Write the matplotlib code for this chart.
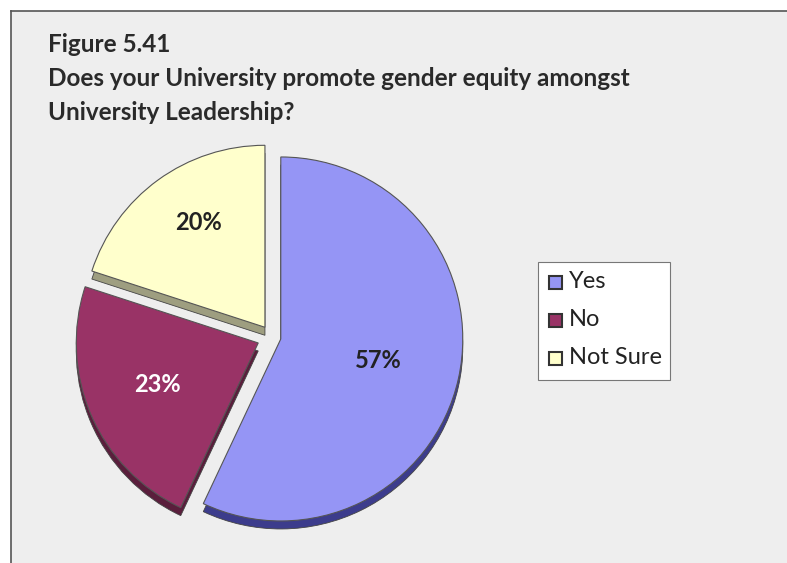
import matplotlib.pyplot as plt
from matplotlib.patches import Rectangle
from matplotlib.lines import Line2D

plt.rcParams['font.family'] = ['Lato', 'DejaVu Sans']

labels = ['Yes', 'No', 'Not Sure']
shares = [57, 23, 20]
pct_labels = ['57%', '23%', '20%']
colors = ['#9595f5', '#993366', '#ffffcc']
side_colors = ['#3c3c8c', '#5a1e3c', '#9e9e80']
pct_colors = ['#222222', 'white', '#222222']
# explode distances in pixels (pie offsets are in data units)
explode = [9, 15, 12]

W, H = 787, 563
fig = plt.figure(figsize=(W / 100, H / 100), dpi=100)
fig.patch.set_facecolor('white')
ax = fig.add_axes([0, 0, 1, 1])

# grey chart area with a dark frame on the top and left
ax.add_patch(Rectangle((11, -5), W, H - 11 + 5, facecolor='#eeeeee',
                       edgecolor='none', zorder=0))
ax.add_line(Line2D([11, 11], [0, H - 11], color='#555555', lw=1.2, zorder=1))
ax.add_line(Line2D([11, W], [H - 11, H - 11], color='#555555', lw=1.2, zorder=1))

# title
title_lines = ['Figure 5.41',
               'Does your University promote gender equity amongst',
               'University Leadership?']
for i, line in enumerate(title_lines):
    ax.text(48, H - 45 - i * 34, line, fontsize=17.5, fontweight='bold',
            color='#2a2a2a', va='center', ha='left', zorder=5)

cx, cy, r = 272, H - 337, 182

# depth of the 3d pie: a darker copy shifted downwards
ax.pie(shares, explode=explode, colors=side_colors, startangle=90,
       counterclock=False, radius=r, center=(cx, cy - 8), frame=False,
       wedgeprops=dict(edgecolor='#444444', linewidth=0.6))
wedges, texts = ax.pie(shares, explode=explode, colors=colors, startangle=90,
                       counterclock=False, radius=r, center=(cx, cy), frame=False,
                       wedgeprops=dict(edgecolor='#555555', linewidth=0.8))
ax.set_xlim(0, W)
ax.set_ylim(0, H)
ax.set_aspect('equal')
ax.axis('off')

label_pos = [(378, H - 360), (157, H - 385), (198, H - 222)]
for (x, y), txt, c in zip(label_pos, pct_labels, pct_colors):
    ax.text(x, y, txt, fontsize=17, fontweight='bold', color=c,
            ha='center', va='center', zorder=6)

# legend
ax.add_patch(Rectangle((538, H - 380), 132, 118, facecolor='white',
                       edgecolor='#777777', lw=0.8, zorder=4))
for i, (lab, c) in enumerate(zip(labels, colors)):
    y = H - 282 - i * 38
    ax.add_patch(Rectangle((549, y - 7), 13, 13, facecolor=c,
                           edgecolor='#333333', lw=1.5, zorder=5))
    ax.text(569, y, lab, fontsize=17, color='#222222', va='center',
            ha='left', zorder=5)

fig.savefig('out.png', dpi=100)
